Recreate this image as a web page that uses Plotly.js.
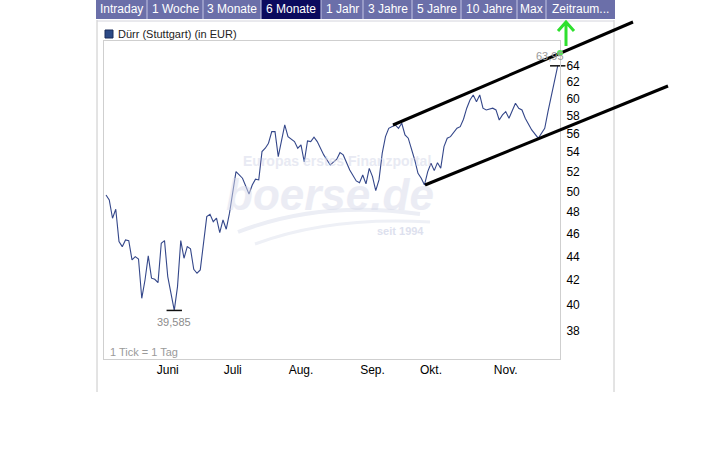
<!DOCTYPE html>
<html>
<head>
<meta charset="utf-8">
<script src="https://cdn.plot.ly/plotly-3.0.1.min.js"></script>
<style>html,body{margin:0;padding:0;background:#fff;}#chart{width:720px;height:450px;}</style>
</head>
<body>
<div id="chart"></div>
<script>
// ---- data ----
const tradingDay = [0,1,2,3,4,5,6,7,8,9,10,11,12,13,14,15,16,17,18,19,21,22,23,24,25,26,27,28,29,30,31,32,33,34,35,36,37,38,40,42,44,45,46,47,48,49,50,51,52,53,55,56,58,59,60,61,62,63,64,65,67,69,71,72,73,75,77,78,79,80,81,82,83,84,85,86,87,89,90,91,92,93,94,95,96,97,98,99,100,101,102,103,104,105,106,108,109,110,111,112,113,114,115,116,117,119,120,121,122,123,124,125,126,127,128,129,131,133,135,136,137,138,139];
const price = [49.64,49.16,47.43,48.27,45.30,44.86,45.45,45.39,43.71,43.99,43.79,40.54,42.02,44.05,42.17,42.08,41.80,45.16,45.39,42.30,39.585,41.48,45.39,43.85,44.86,44.66,42.91,42.58,42.86,45.45,47.58,47.80,47.11,47.43,46.11,47.27,46.42,47.90,51.97,51.30,49.74,50.63,51.20,51.13,54.05,54.41,54.94,56.21,56.21,53.52,56.95,55.66,55.12,54.41,54.76,52.96,55.19,55.12,55.59,55.12,53.70,52.65,53.25,53.94,53.70,52.14,51.03,50.86,51.63,50.73,52.30,51.46,50.07,51.13,53.88,55.66,56.58,56.95,56.58,57.14,55.85,55.49,54.41,53.17,51.80,51.30,50.63,51.97,52.83,52.07,52.89,52.32,54.58,55.49,55.66,56.58,56.76,57.59,58.85,59.81,60.40,59.61,60.40,58.85,58.65,58.85,58.65,57.51,58.08,58.46,57.70,58.46,59.42,58.85,58.65,57.70,56.40,55.49,56.58,58.46,60.20,62.20,63.95];
const monthTickDay = [19,39,60,82,100,123];
const monthLabels = ['Juni','Juli','Aug.','Sep.','Okt.','Nov.'];
const priceTicks = [38,40,42,44,46,48,50,52,54,56,58,60,62,64];
const seriesName = 'Dürr (Stuttgart) (in EUR)';
const tabLabels = ['Intraday','1 Woche','3 Monate','6 Monate','1 Jahr','3 Jahre','5 Jahre','10 Jahre','Max','Zeitraum...'];
const selectedTab = 3;

// ---- helpers (layout only) ----
const L = 104, T = 41, W = 456, H = 318;
const px = x => (x - L) / W;
const py = y => (T + H - y) / H;
const FONT = 'Arial, "Liberation Sans", sans-serif';

let minI = 0, maxI = 0;
price.forEach((v,i)=>{ if(v<price[minI]) minI=i; if(v>price[maxI]) maxI=i; });
const fmt = v => String(v).replace('.', ',');

const traces = [
  {x: tradingDay, y: price, type:'scatter', mode:'lines',
   line:{color:'#34478a', width:1.1}, hoverinfo:'skip'},
  {x:[tradingDay[minI], tradingDay[maxI]], y:[price[minI], price[maxI]], type:'scatter', mode:'markers',
   marker:{symbol:'line-ew', size:11, line:{color:'#111', width:1.5}}, hoverinfo:'skip', cliponaxis:false}
];

const shapes = [];
const annotations = [];

// frame
shapes.push({type:'line', xref:'paper', yref:'paper', x0:px(97), x1:px(97), y0:py(20), y1:py(392), line:{color:'#c8c8c8', width:1}});
shapes.push({type:'line', xref:'paper', yref:'paper', x0:px(614), x1:px(614), y0:py(20), y1:py(392), line:{color:'#c8c8c8', width:1}});
shapes.push({type:'line', xref:'paper', yref:'paper', x0:px(97), x1:px(614), y0:py(21), y1:py(21), line:{color:'#d4d4dc', width:1}});

// tab bar
const tabEdges = [96,147,203,261,321,363,412,461,517,546,615];
shapes.push({type:'rect', xref:'paper', yref:'paper', x0:px(96), x1:px(615), y0:py(0), y1:py(19), fillcolor:'#6b6fa9', line:{width:0}});
shapes.push({type:'rect', xref:'paper', yref:'paper', x0:px(tabEdges[selectedTab]), x1:px(tabEdges[selectedTab+1]), y0:py(0), y1:py(19), fillcolor:'#0b0b5e', line:{width:0}});
for (let i=1;i<tabEdges.length-1;i++){
  shapes.push({type:'line', xref:'paper', yref:'paper', x0:px(tabEdges[i]), x1:px(tabEdges[i]), y0:py(0), y1:py(19), line:{color:'#c4c6e4', width:1}});
}
tabLabels.forEach((t,i)=>{
  annotations.push({xref:'paper', yref:'paper', x:px((tabEdges[i]+tabEdges[i+1])/2), y:py(9.5), text:t, showarrow:false,
    xanchor:'center', yanchor:'middle', font:{family:FONT, size:12, color:'#ffffff'}});
});

// legend
shapes.push({type:'rect', xref:'paper', yref:'paper', x0:px(105), x1:px(113), y0:py(30), y1:py(38), fillcolor:'#2c4a86', line:{color:'#1b2d5a', width:1}});
annotations.push({xref:'paper', yref:'paper', x:px(116), y:py(34), text:seriesName, showarrow:false, xanchor:'left', yanchor:'middle',
  font:{family:FONT, size:11, color:'#222'}});

// "1 Tick = 1 Tag"
annotations.push({xref:'paper', yref:'paper', x:px(108), y:py(352), text:'1 Tick = 1 Tag', showarrow:false, xanchor:'left', yanchor:'middle',
  font:{family:FONT, size:11, color:'#9a9a9a'}});

// watermark
annotations.push({xref:'paper', yref:'paper', x:px(337), y:py(161), text:'<b>Europas erstes Finanzportal</b>', showarrow:false,
  font:{family:FONT, size:14, color:'#d6d9ea'}, opacity:0.55});
annotations.push({xref:'paper', yref:'paper', x:px(330), y:py(194), text:'<b><i>boerse.de</i></b>', showarrow:false,
  font:{family:FONT, size:44, color:'#d8dbeb'}, opacity:0.5});
annotations.push({xref:'paper', yref:'paper', x:px(400), y:py(231), text:'<b>seit 1994</b>', showarrow:false,
  font:{family:FONT, size:11, color:'#d0d4e8'}, opacity:0.7});
const sw = (x0,y0,cx,cy,x1,y1)=>`M ${px(x0)} ${py(y0)} Q ${px(cx)} ${py(cy)} ${px(x1)} ${py(y1)}`;
shapes.push({type:'path', xref:'paper', yref:'paper', layer:'below', path:sw(238,232,320,200,420,214), line:{color:'#eceef5', width:4}});
shapes.push({type:'path', xref:'paper', yref:'paper', layer:'below', path:sw(255,244,330,216,430,222), line:{color:'#eef0f6', width:3}});

// min / max labels from data
annotations.push({x:tradingDay[minI], y:Math.log10(price[minI]), text:fmt(price[minI]), showarrow:false, xanchor:'center', yanchor:'top', yshift:-4,
  font:{family:FONT, size:11, color:'#8c8c8c'}});
annotations.push({x:tradingDay[maxI], y:Math.log10(price[maxI]), text:fmt(price[maxI]), showarrow:false, xanchor:'right', yanchor:'bottom', xshift:8, yshift:2,
  font:{family:FONT, size:11, color:'#9a9a9a'}});

// hand-drawn trend channel and arrow
shapes.push({type:'line', xref:'paper', yref:'paper', x0:px(393), y0:py(125), x1:px(633), y1:py(22), line:{color:'#000', width:3}});
shapes.push({type:'line', xref:'paper', yref:'paper', x0:px(425), y0:py(185), x1:px(668), y1:py(86), line:{color:'#000', width:3}});
shapes.push({type:'path', xref:'paper', yref:'paper',
  path:`M ${px(566)} ${py(46)} L ${px(566)} ${py(23)} M ${px(558)} ${py(31)} L ${px(566)} ${py(22)} L ${px(574)} ${py(31)}`,
  line:{color:'#2ee02e', width:3}});
shapes.push({type:'circle', xref:'paper', yref:'paper', x0:px(557), x1:px(563), y0:py(50), y1:py(56), fillcolor:'#5ce05c', line:{width:0}});

const layout = {
  width:720, height:450,
  margin:{l:L, r:720-L-W, t:T, b:450-T-H, pad:0},
  paper_bgcolor:'#ffffff', plot_bgcolor:'#ffffff',
  showlegend:false,
  xaxis:{range:[-0.62,139.7], tickmode:'array', tickvals:monthTickDay, ticktext:monthLabels,
    showgrid:false, zeroline:false, showline:true, mirror:true, linecolor:'#cfcfcf', linewidth:1,
    ticks:'', ticklabelstandoff:0, tickfont:{family:FONT, size:12, color:'#000'}, fixedrange:true},
  yaxis:{type:'log', range:[1.55618,1.82698], side:'right', tickmode:'array', tickvals:priceTicks,
    ticktext:priceTicks.map(String), showgrid:false, zeroline:false, showline:true, mirror:true,
    linecolor:'#cfcfcf', linewidth:1, ticks:'', ticklabelstandoff:3,
    tickfont:{family:FONT, size:12, color:'#000'}, fixedrange:true},
  shapes:shapes, annotations:annotations
};

Plotly.newPlot('chart', traces, layout, {staticPlot:true, displayModeBar:false});
</script>
</body>
</html>
